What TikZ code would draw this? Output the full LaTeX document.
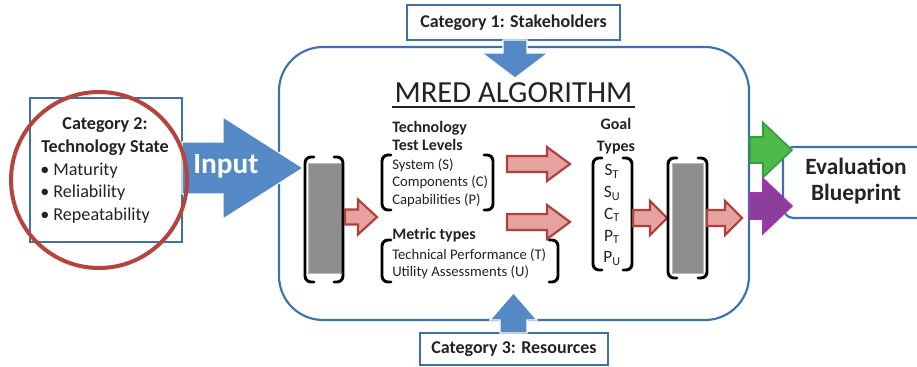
\documentclass[tikz,border=0pt]{standalone}
\usepackage{fontspec}
\setmainfont{Carlito}
\definecolor{arrowblue}{RGB}{84,137,198}
\definecolor{boxblue}{RGB}{62,112,170}
\definecolor{redline}{RGB}{176,64,60}
\definecolor{redfill}{RGB}{230,162,158}
\definecolor{circred}{RGB}{180,68,62}
\definecolor{greenfill}{RGB}{78,186,74}
\definecolor{greenline}{RGB}{46,160,62}
\definecolor{purplefill}{RGB}{140,62,156}
\definecolor{purpleline}{RGB}{165,50,175}
\definecolor{greyfill}{RGB}{142,142,142}
\definecolor{greyline}{RGB}{185,185,185}
\definecolor{txtc}{RGB}{35,35,35}
\newcommand\harrow[7]{\draw[#1] ({#2},{#4-#5}) -- ({#3-#7},{#4-#5}) -- ({#3-#7},{#4-#6}) -- ({#3},{#4}) -- ({#3-#7},{#4+#6}) -- ({#3-#7},{#4+#5}) -- ({#2},{#4+#5}) -- cycle;}
\newcommand\varrow[7]{\draw[#1] ({#2-#6},{#3}) -- ({#2-#6},{#4}) -- ({#2-#7},{#4}) -- ({#2},{#5}) -- ({#2+#7},{#4}) -- ({#2+#6},{#4}) -- ({#2+#6},{#3}) -- cycle;}
\newcommand\brk[4]{%
  \draw[bracketline] ({#1+9},{#3}) -- ({#1},{#3}) -- ({#1},{#4}) -- ({#1+9},{#4});
  \draw[bracketline] ({#2-9},{#3}) -- ({#2},{#3}) -- ({#2},{#4}) -- ({#2-9},{#4});}
\begin{document}
\begin{tikzpicture}[x=0.75pt,y=-0.75pt,
  bluearrow/.style={fill=arrowblue, draw=white, line width=0.8pt},
  redarrow/.style={fill=redfill, draw=redline, line width=1.6pt, line join=miter},
  greenarrow/.style={fill=greenfill, draw=greenline, line width=1.2pt},
  purplearrow/.style={fill=purplefill, draw=purpleline, line width=1.2pt},
  bracketline/.style={line width=2.2pt, rounded corners=4.5pt, line cap=round},
  catbox/.style={draw=boxblue, line width=1.1pt, fill=white, inner sep=0pt, text=txtc},
  txt/.style={inner sep=0pt, text=txtc},
  greybar/.style={fill=greyfill, draw=greyline, line width=0.6pt}]
\useasboundingbox (0,0) rectangle (917,367);
\clip (0,0) rectangle (917,367);
\fill[white] (0,0) rectangle (917,367);

% main algorithm box
\draw[boxblue, line width=1.6pt, rounded corners=33pt] (279,47) rectangle (749,320);

% evaluation blueprint box
\draw[boxblue, line width=1.6pt, rounded corners=8pt] (930,147) -- (783,147) -- (783,218) -- (930,218);
\node[txt, font=\bfseries\fontsize{17.5}{21}\selectfont, align=center] (evalt) at (856,181) {Evaluation\\[-1pt]Blueprint};

% category 1
\node[catbox, minimum width=159.75pt, minimum height=26.25pt, font=\bfseries\fontsize{13.5}{15}\selectfont] (cat1) at (513.5,22.5) {Category 1: Stakeholders};
\varrow{bluearrow}{515}{40}{53}{78}{12}{33}

% category 3
\node[catbox, minimum width=141pt, minimum height=24pt, font=\bfseries\fontsize{13.5}{15}\selectfont] (cat3) at (514,349) {Category 3: Resources};
\varrow{bluearrow}{513.5}{333}{320}{293}{13.5}{23.5}

% category 2
\draw[boxblue, line width=1.1pt] (30,98) rectangle (182,242);
\harrow{bluearrow}{182}{303}{168}{26}{51}{80}
\node[txt, font=\bfseries\fontsize{22}{26}\selectfont, text=white, anchor=west] (input) at (193,166) {Input};
\node[txt, font=\bfseries\fontsize{13.6}{17}\selectfont, align=center] (cat2) at (105,136.5) {Category 2:\\Technology State};
\node[txt, font=\fontsize{13.6}{17}\selectfont, align=left, anchor=west] (cat2list) at (40,193) {\textbullet\ Maturity\\\textbullet\ Reliability\\\textbullet\ Repeatability};
\draw[circred, line width=3pt] (99,180) circle (88);

% title
\node[txt, font=\fontsize{23}{27}\selectfont] (title) at (513.5,93) {MRED ALGORITHM};
\draw[txtc, line width=1.2pt] (392,107) -- (635,107);

% left matrix
\draw[greybar] (308,163) rectangle (342,273);
\brk{305}{343}{157}{282}
\harrow{redarrow}{345}{377}{217}{7.5}{17.5}{19}

% technology test levels
\node[txt, font=\bfseries\fontsize{12}{13.5}\selectfont, align=left, anchor=west] (ttl) at (392,136) {Technology\\Test Levels};
\node[txt, font=\fontsize{11}{13.1}\selectfont, align=left, anchor=west] (levels) at (392,182.5) {System (S)\\Components (C)\\Capabilities (P)};
\brk{382}{493}{155}{210}

% metric types
\node[txt, font=\bfseries\fontsize{12}{13.5}\selectfont, anchor=west] (mt) at (392,235) {Metric types};
\node[txt, font=\fontsize{11}{13.1}\selectfont, align=left, anchor=west] (metrics) at (392,264) {Technical Performance (T)\\Utility Assessments (U)};
\brk{382}{558}{240}{282}

\harrow{redarrow}{507}{570}{164}{8}{17}{23}
\harrow{redarrow}{507}{570}{222}{8}{17}{23}

% goal types
\node[txt, font=\bfseries\fontsize{12}{16}\selectfont, align=center] (goal) at (616,136) {Goal\\Types};
\node[txt, font=\fontsize{13}{16.3}\selectfont, align=center] (goals) at (612,215) {S\textsubscript{T}\\S\textsubscript{U}\\C\textsubscript{T}\\P\textsubscript{T}\\P\textsubscript{U}};
\brk{593}{632}{158}{270}
\harrow{redarrow}{633}{667}{218}{8}{17}{17}

% right matrix
\draw[greybar] (672,163) rectangle (703,273);
\brk{668}{707}{158}{278}
\harrow{redarrow}{707}{742}{218}{8}{17}{17}

% output arrows
\harrow{greenarrow}{750}{792}{150}{13}{27.5}{29}
\harrow{purplearrow}{750}{792}{206}{13}{27.5}{29}
\end{tikzpicture}
\end{document}
